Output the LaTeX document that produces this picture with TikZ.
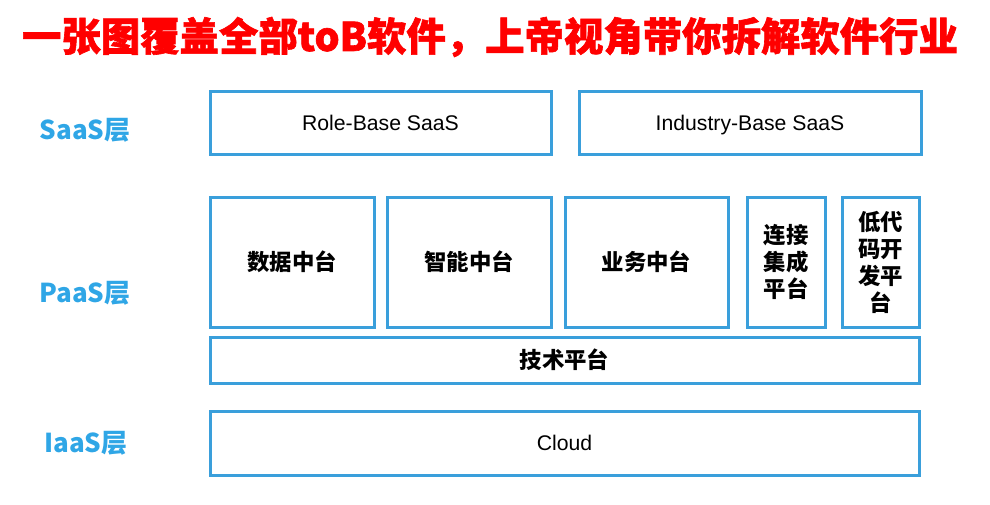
\documentclass[tikz,border=0pt]{standalone}
\usepackage{fontspec}
\setmainfont{Liberation Sans}
\newfontfamily\cjk{Noto Sans CJK SC}
\newfontfamily\cjktitle{Noto Sans CJK SC}[FakeBold=1.5]
\definecolor{layerblue}{HTML}{2FA6E6}
\definecolor{boxblue}{HTML}{3A9FDB}
\definecolor{titlered}{HTML}{FF0000}

\begin{document}
\begin{tikzpicture}[x=0.5pt,y=-0.5pt,
    layer/.style={font=\cjk\bfseries\fontsize{13}{15}\selectfont, text=layerblue},
    block/.style={draw=boxblue, line width=1.5pt, inner sep=0pt, align=center,
                  font=\fontsize{10.6}{13}\selectfont},
    enblock/.style={block, text height=9.4pt, text depth=2pt},
    cnblock/.style={block, font=\cjk\bfseries\fontsize{11.2}{13.5}\selectfont}]
  \useasboundingbox (0,0) rectangle (990,504);
  \node [font=\cjktitle\bfseries\fontsize{19.7}{24}\selectfont, text=titlered] (title) at (490,37)
        {一张图覆盖全部toB软件，上帝视角带你拆解软件行业};
  % layer labels
  \node [layer] (saas) at (85,130) {SaaS层};
  \node [layer] (paas) at (85,293) {PaaS层};
  \node [layer] (iaas) at (86,443) {IaaS层};
  % SaaS
  \node [enblock, minimum width=170.5pt, minimum height=31.5pt] (role) at (380.5,123) {Role-Base SaaS};
  \node [enblock, minimum width=171pt, minimum height=31.5pt] (industry) at (750,123) {Industry-Base SaaS};
  % PaaS
  \node [cnblock, minimum width=82pt, minimum height=65pt] (data) at (292,262) {数据中台};
  \node [cnblock, minimum width=82pt, minimum height=65pt] (ai) at (469,262) {智能中台};
  \node [cnblock, minimum width=81.5pt, minimum height=65pt] (biz) at (646.5,262) {业务中台};
  \node [cnblock, minimum width=39pt, minimum height=65pt] (connect) at (786,262) {连接\\集成\\平台};
  \node [cnblock, minimum width=38.5pt, minimum height=65pt] (lowcode) at (880.5,262) {低代\\码开\\发平\\台};
  \node [cnblock, minimum width=354.5pt, minimum height=23pt] (tech) at (564.5,360) {技术平台};
  % IaaS
  \node [enblock, minimum width=354.5pt, minimum height=32pt] (cloud) at (564.5,443) {Cloud};
\end{tikzpicture}
\end{document}
